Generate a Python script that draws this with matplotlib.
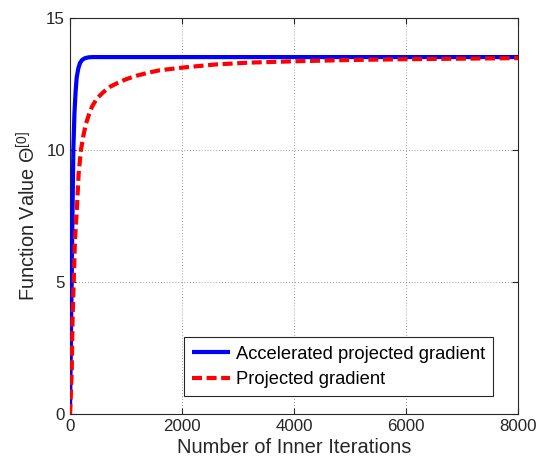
import matplotlib
matplotlib.use("Agg")
import matplotlib.pyplot as plt

plt.rcParams['font.family'] = ['Liberation Sans', 'DejaVu Sans']
plt.rcParams['mathtext.fontset'] = 'custom'
plt.rcParams['mathtext.rm'] = 'Liberation Sans'
plt.rcParams['mathtext.it'] = 'Liberation Sans:italic'

# Data
acc_iters = [0, 15, 30, 45, 60, 80, 100, 120, 150, 180, 220, 270, 330, 400, 8000]
acc_values = [0, 2.5, 5.0, 7.6, 10.0, 11.4, 12.2, 12.75, 13.1, 13.3, 13.42,
              13.48, 13.51, 13.52, 13.52]

pg_iters = [0, 10, 20, 30, 47, 71, 89, 125, 155, 196, 240, 286, 340, 393, 480,
            600, 720, 840, 1000, 1200, 1400, 1600, 2000, 2600, 3200, 4000, 5000,
            6000, 7000, 8000]
pg_values = [0, 0.5, 1.0, 1.54, 3.69, 5.33, 6.59, 7.85, 9.12, 10.0, 10.55, 11.0,
             11.35, 11.64, 11.95, 12.2, 12.4, 12.53, 12.68, 12.82, 12.93, 13.02,
             13.12, 13.24, 13.31, 13.36, 13.41, 13.44, 13.46, 13.48]

xticks = [0, 2000, 4000, 6000, 8000]
yticks = [0, 5, 10, 15]

fig = plt.figure(figsize=(5.45, 4.69), dpi=100)
ax = fig.add_axes([0.1284, 0.1173, 0.8221, 0.8443])

ax.plot(acc_iters, acc_values, color='#0000ff', lw=3.0, solid_capstyle='butt',
        solid_joinstyle='round', label='Accelerated projected gradient', zorder=3)
ax.plot(pg_iters, pg_values, color='#ff0000', lw=3.0, ls=(0, (2.4, 1.1)),
        label='Projected gradient', zorder=3)

ax.set_xlim(0, 8000)
ax.set_ylim(0, 15)
ax.set_xticks(xticks)
ax.set_yticks(yticks)
ax.tick_params(direction='in', top=True, right=True, labelsize=12.2,
               length=4, width=0.8, colors='#262626', labelcolor='#262626')
ax.grid(True, linestyle=(0, (1, 2.5)), color='#262626', lw=0.6, alpha=0.6)
for s in ax.spines.values():
    s.set_color('#262626')
    s.set_linewidth(0.8)

ax.set_xlabel('Number of Inner Iterations', fontsize=14.5, color='#262626', labelpad=3)
ax.set_ylabel('Function Value Θ$^{[0]}$', fontsize=14.3, color='#262626', labelpad=5)

leg = ax.legend(loc='lower right', bbox_to_anchor=(0.944, 0.045), fontsize=13.2,
                fancybox=False, framealpha=1, edgecolor='#262626',
                handlelength=2.05, borderpad=0.45, labelspacing=0.45,
                handletextpad=0.3, borderaxespad=0)
leg.get_frame().set_linewidth(0.8)

fig.savefig('out.png', dpi=100)
